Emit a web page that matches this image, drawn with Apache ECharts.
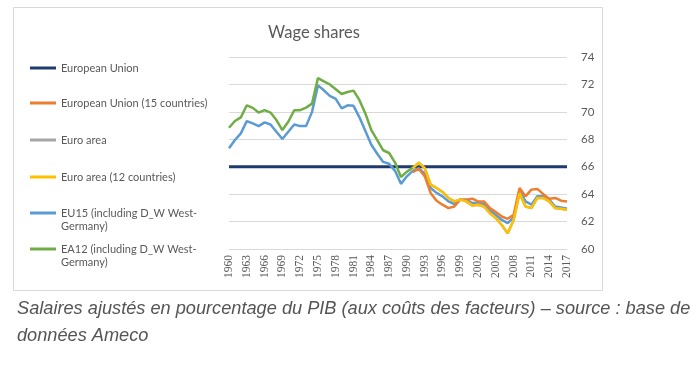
<!DOCTYPE html>
<html>
<head>
<meta charset="utf-8">
<script src="https://cdn.jsdelivr.net/npm/echarts@6/dist/echarts.min.js"></script>
<style>
  html, body { margin: 0; padding: 0; background: #ffffff; }
  #chart { width: 700px; height: 375px; }
</style>
</head>
<body>
<div id="chart"></div>
<script>
const years = [
  '1960','1961','1962','1963','1964','1965','1966','1967','1968','1969',
  '1970','1971','1972','1973','1974','1975','1976','1977','1978','1979',
  '1980','1981','1982','1983','1984','1985','1986','1987','1988','1989',
  '1990','1991','1992','1993','1994','1995','1996','1997','1998','1999',
  '2000','2001','2002','2003','2004','2005','2006','2007','2008','2009',
  '2010','2011','2012','2013','2014','2015','2016','2017'
];

const yTicks = { min: 60, max: 74, step: 2 };

const europeanUnion = [
  66,66,66,66,66,66,66,66,66,66,
  66,66,66,66,66,66,66,66,66,66,
  66,66,66,66,66,66,66,66,66,66,
  66,66,66,66,66,66,66,66,66,66,
  66,66,66,66,66,66,66,66,66,66,
  66,66,66,66,66,66,66,66
];

const eu15Countries = [
  null,null,null,null,null,null,null,null,null,null,
  null,null,null,null,null,null,null,null,null,null,
  null,null,null,null,null,null,null,null,null,null,
  null,65.6,65.85,65.31,64.09,63.52,63.23,62.98,63.1,63.6,
  63.6,63.67,63.47,63.47,62.98,62.69,62.37,62.2,62.49,64.45,
  63.84,64.33,64.38,64.0,63.67,63.72,63.52,63.47
];

const euroArea = [
  null,null,null,null,null,null,null,null,null,null,
  null,null,null,null,null,null,null,null,null,null,
  null,null,null,null,null,null,null,null,null,null,
  null,65.9,66.3,65.9,64.7,64.45,64.16,63.72,63.47,63.6,
  63.47,63.18,63.23,63.1,62.61,62.25,61.75,61.14,62.12,64.09,
  63.1,62.98,63.72,63.72,63.47,62.98,62.93,62.86
];

const ea12Countries = [
  null,null,null,null,null,null,null,null,null,null,
  null,null,null,null,null,null,null,null,null,null,
  null,null,null,null,null,null,null,null,null,null,
  null,65.9,66.3,65.9,64.7,64.45,64.16,63.72,63.47,63.6,
  63.47,63.18,63.23,63.1,62.61,62.25,61.75,61.14,62.12,64.09,
  63.1,62.98,63.72,63.72,63.47,62.98,62.93,62.86
];

const eu15WestGermany = [
  67.35,67.95,68.43,69.33,69.16,68.96,69.23,69.08,68.55,68.02,
  68.55,69.08,68.96,68.96,70.0,71.93,71.57,71.16,70.95,70.25,
  70.48,70.44,69.6,68.6,67.6,66.95,66.35,66.22,65.7,64.75,
  65.3,65.7,65.9,65.5,64.45,64.09,63.84,63.47,63.28,63.6,
  63.6,63.35,63.35,63.28,62.79,62.49,62.12,61.88,62.3,64.26,
  63.47,63.23,63.84,63.84,63.6,63.1,63.03,62.93
];

const ea12WestGermany = [
  68.84,69.33,69.6,70.48,70.29,69.95,70.12,69.95,69.4,68.67,
  69.28,70.12,70.12,70.31,70.6,72.46,72.22,72.0,71.65,71.3,
  71.45,71.55,70.85,69.88,68.67,67.94,67.2,67.0,66.3,65.25,
  65.64,65.95,null,null,null,null,null,null,null,null,
  null,null,null,null,null,null,null,null,null,null,
  null,null,null,null,null,null,null,null
];

const seriesNames = [
  'European Union',
  'European Union (15 countries)',
  'Euro area',
  'Euro area (12 countries)',
  'EU15 (including D_W West-Germany)',
  'EA12 (including D_W West-Germany)'
];
const titleText = 'Wage shares';
const captionLines = [
  'Salaires ajustés en pourcentage du PIB (aux coûts des facteurs) – source : base de',
  'données Ameco'
];

const colors = {
  'European Union': '#203A6E',
  'European Union (15 countries)': '#ED7D31',
  'Euro area': '#A5A5A5',
  'Euro area (12 countries)': '#FFC000',
  'EU15 (including D_W West-Germany)': '#5B9BD5',
  'EA12 (including D_W West-Germany)': '#70AD47'
};
const dataByName = {
  'European Union': europeanUnion,
  'European Union (15 countries)': eu15Countries,
  'Euro area': euroArea,
  'Euro area (12 countries)': ea12Countries,
  'EU15 (including D_W West-Germany)': eu15WestGermany,
  'EA12 (including D_W West-Germany)': ea12WestGermany
};
// drawing order (later on top)
const drawOrder = [
  'European Union',
  'EU15 (including D_W West-Germany)',
  'EA12 (including D_W West-Germany)',
  'Euro area',
  'European Union (15 countries)',
  'Euro area (12 countries)'
];

const textGray = '#595959';
const legendFont = 'Lato, "Open Sans", sans-serif';
const legendCenters = [68, 103, 140, 177, 213, 249];

const legends = seriesNames.map((name, i) => {
  const twoLine = name.indexOf('West-Germany') >= 0;
  return {
    data: [name],
    orient: 'vertical',
    left: 30,
    top: twoLine ? legendCenters[i] - 19.5 : legendCenters[i] - 6.5,
    padding: 0,
    icon: 'rect',
    itemWidth: 26,
    itemHeight: 3,
    itemGap: 0,
    selectedMode: false,
    formatter: function (n) {
      return n.indexOf('West-Germany') >= 0 ? '\n' + n.replace('West-Germany', 'West-\nGermany') : n;
    },
    textStyle: {
      color: textGray,
      fontFamily: legendFont,
      fontSize: 11,
      lineHeight: 13
    }
  };
});

const chart = echarts.init(document.getElementById('chart'), null, { renderer: 'canvas' });

chart.setOption({
  animation: false,
  backgroundColor: '#ffffff',
  title: {
    text: titleText,
    left: 309,
    top: 19,
    textAlign: 'center',
    textStyle: { color: textGray, fontFamily: legendFont, fontSize: 16.5, fontWeight: 'normal' }
  },
  legend: legends,
  grid: { left: 229, right: 133, top: 57, bottom: 126, containLabel: false },
  xAxis: {
    type: 'category',
    data: years,
    boundaryGap: false,
    axisLine: { show: true, lineStyle: { color: '#D9D9D9', width: 1 } },
    axisTick: { show: false },
    axisLabel: {
      interval: 2,
      rotate: 90,
      margin: 6,
      color: textGray,
      fontFamily: '"Liberation Serif", serif',
      fontSize: 11.5
    },
    splitLine: { show: false }
  },
  yAxis: {
    type: 'value',
    position: 'right',
    min: yTicks.min,
    max: yTicks.max,
    interval: yTicks.step,
    axisLine: { show: false },
    axisTick: { show: false },
    axisLabel: { margin: 14, color: textGray, fontFamily: legendFont, fontSize: 11.5 },
    splitLine: { lineStyle: { color: '#D9D9D9', width: 1 } }
  },
  series: drawOrder.map(name => ({
    name: name,
    type: 'line',
    data: dataByName[name],
    symbol: 'none',
    connectNulls: false,
    color: colors[name],
    lineStyle: { color: colors[name], width: name === 'European Union' ? 3 : 2.5 },
    z: 2
  })),
  graphic: [
    {
      type: 'rect',
      shape: { x: 13.5, y: 7.5, width: 589, height: 283 },
      style: { fill: null, stroke: '#D9D9D9', lineWidth: 1 },
      silent: true,
      z: -1
    },
    {
      type: 'text',
      left: 17,
      top: 300,
      style: {
        text: captionLines[0],
        fill: '#555555',
        font: 'italic 18.2px "Liberation Sans", Arial, sans-serif'
      }
    },
    {
      type: 'text',
      left: 17,
      top: 327,
      style: {
        text: captionLines[1],
        fill: '#555555',
        font: 'italic 18.2px "Liberation Sans", Arial, sans-serif'
      }
    }
  ]
});
</script>
</body>
</html>
